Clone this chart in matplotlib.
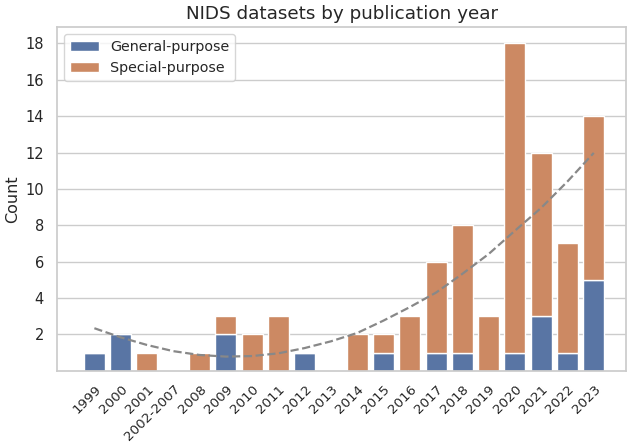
import numpy as np
import matplotlib
matplotlib.use("Agg")
import matplotlib.pyplot as plt
import seaborn as sns

years = ["1999", "2000", "2001", "2002-2007", "2008", "2009", "2010", "2011",
         "2012", "2013", "2014", "2015", "2016", "2017", "2018", "2019",
         "2020", "2021", "2022", "2023"]
general = [1, 2, 0, 0, 0, 2, 0, 0, 1, 0, 0, 1, 0, 1, 1, 0, 1, 3, 1, 5]
special = [0, 0, 1, 0, 1, 1, 2, 3, 0, 0, 2, 1, 3, 5, 7, 3, 17, 9, 6, 9]
# dashed trend, values
trend = [2.34, 1.84, 1.42, 1.08, 0.87, 0.78, 0.81, 0.96, 1.25, 1.62,
         2.08, 2.76, 3.50, 4.30, 5.33, 6.42, 7.70, 8.96, 10.41, 11.98]

sns.set_theme(style="whitegrid")
deep = sns.color_palette("deep")
c_gen = sns.desaturate(deep[0], 0.75)
c_spe = sns.desaturate(deep[1], 0.75)

x = np.arange(len(years))
gen = np.array(general)
spe = np.array(special)

fig, ax = plt.subplots(figsize=(6.27, 4.43), dpi=100)
fig.subplots_adjust(left=0.091, right=0.999, top=0.939, bottom=0.163)
ax.bar(x, gen, width=0.8, color=c_gen, edgecolor="white", linewidth=1, label="General-purpose")
ax.bar(x, spe, width=0.8, bottom=gen, color=c_spe, edgecolor="white", linewidth=1, label="Special-purpose")
ax.plot(x, trend, linestyle="--", color="#888888", linewidth=1.6)

ax.set_xticks(x)
ax.set_xticklabels(years, rotation=45, ha="right", rotation_mode="anchor", fontsize=9.6)
ax.tick_params(axis="x", pad=2.5)
ax.set_yticks(np.arange(2, 19, 2))
ax.tick_params(axis="y", labelsize=10.5)
ax.set_xlim(-1.42, 20.24)
ax.set_ylim(0, 18.9)
ax.set_ylabel("Count", fontsize=11.5)
ax.set_title("NIDS datasets by publication year", fontsize=13.2)
ax.grid(axis="x", visible=False)
ax.legend(loc="upper left", fontsize=10.3)
fig.savefig("out.png", dpi=100)
